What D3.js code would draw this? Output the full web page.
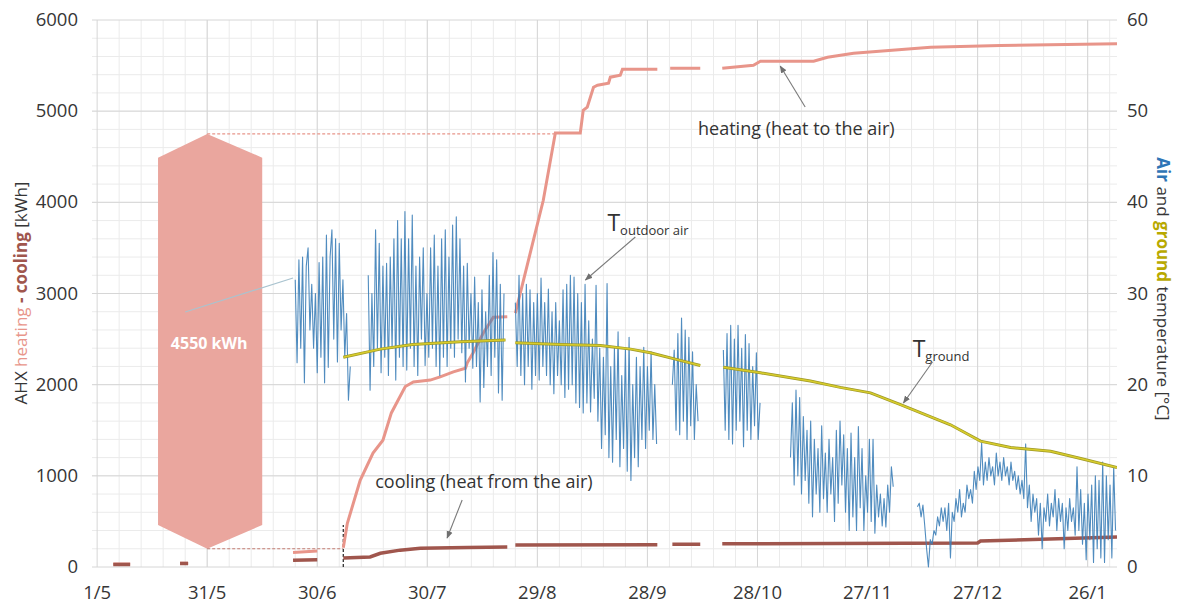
<!DOCTYPE html>
<html>
<head>
<meta charset="utf-8">
<script src="https://cdn.jsdelivr.net/npm/d3@7"></script>
<style>
  body { margin: 0; background: #fff; }
  svg { font-family: "Open Sans", sans-serif; }
</style>
</head>
<body>
<svg id="chart" width="1185" height="606"></svg>
<script>
// days counted from 1/5
var tickDays = [0, 30, 60, 90, 120, 150, 180, 210, 240, 270];
var tickLabels = ["1/5", "31/5", "30/6", "30/7", "29/8", "28/9", "28/10", "27/11", "27/12", "26/1"];
var kwhTicks = [0, 1000, 2000, 3000, 4000, 5000, 6000];
var tempTicks = [0, 10, 20, 30, 40, 50, 60];

// cumulative heating [day, kWh], null = gap
var heating = [
  [4.4, 32], [9, 32], null,
  [22.6, 42], [24.8, 42], null,
  [53.4, 160], [60.0, 175], null,
  [67.1, 210], [68.2, 480], [71.7, 950], [75.2, 1250], [77.9, 1390], [80.2, 1690], [84.0, 1980],
  [86.2, 2030], [90.8, 2050], [93.5, 2085], [97.1, 2140], [100.4, 2180], [100.9, 2240], [102.5, 2350],
  [105.3, 2570], [108.0, 2740], [111.8, 2745], null,
  [114.0, 2785], [121.6, 4020], [124.9, 4760], [131.7, 4760], [132.5, 5010], [133.6, 5044], [135.3, 5263],
  [136.4, 5285], [139.4, 5307], [139.9, 5373], [142.6, 5395], [143.2, 5460], [152.7, 5460], null,
  [156.2, 5470], [164.4, 5470], null,
  [170.4, 5470], [178.9, 5504], [180.8, 5548], [195.3, 5548], [199.1, 5592], [206.2, 5636],
  [227.2, 5702], [246.2, 5720], [278, 5740]
];

// cumulative cooling [day, kWh]
var cooling = [
  [4.4, 28], [9, 28], null,
  [22.6, 38], [24.8, 38], null,
  [53.4, 75], [60, 80], null,
  [67.1, 100], [74.4, 110], [77.2, 150], [82.6, 185], [88.1, 205], [100.9, 215], [111.8, 220], null,
  [114.0, 240], [152.7, 245], null,
  [156.8, 250], [164.4, 250], null,
  [170.4, 255], [240, 263], [240.8, 285], [278, 330]
];

// ground temperature [day, °C]
var ground = [
  [67.1, 23.0], [77.2, 23.9], [86, 24.4], [99.0, 24.7], [111.3, 24.9], null,
  [114.0, 24.6], [126.3, 24.4], [137.2, 24.3], [145.4, 23.9], [150.8, 23.5], [157.6, 22.8], [164.4, 22.1], null,
  [170.7, 21.9], [180.8, 21.3], [194.4, 20.4], [202.6, 19.7], [210.8, 19.1], [219.0, 17.8],
  [232.6, 15.6], [240.8, 13.8], [249.0, 13.1], [259.9, 12.7], [268.1, 11.9], [278, 10.9]
];

// outdoor air temperature, values every half day, segment start days
var airStarts = [54.0, 73.9, 114.0, 156.8, 170.7, 189.0, 223.6];
var air1 = [31.5, 22.4, 33.7, 24, 34, 20.2, 33, 35, 26, 31, 24, 30, 21.3, 33.4, 23, 34, 20.2, 36.4, 21.9, 34,
  37, 25, 36, 22.5, 35.5, 26, 31.5, 23, 27.8, 18.3, 22];
var air2 = [32, 19.4, 30, 22, 37, 24, 35.5, 21.3, 33, 23, 33.3, 21, 34, 24, 36, 20.5, 38, 23, 36, 22,
  39, 21.6, 36, 24, 38.6, 22, 33, 21, 34, 25, 35, 22.1, 30, 23, 35, 24, 36.4, 22, 33, 21,
  36, 23, 37, 22, 34, 24, 37.5, 23, 38.4, 25, 36, 23.5, 33, 20.3, 33.3, 24, 30, 21.8, 31.8, 22,
  29, 18.1, 30.4, 19.7, 28, 22, 32, 21, 34.5, 23, 33.7, 19.1, 31, 18.3, 30];
var air3 = [29, 22, 32, 21, 30, 20, 31, 22, 30.4, 19.5, 29, 21, 30, 20.5, 31.7, 22, 29, 21, 30.5, 20,
  28, 19, 29, 21, 27, 20, 30.4, 18.6, 31, 19.5, 32, 20, 31.8, 18, 30, 17.5, 29, 16.9, 31, 18,
  27, 17, 25, 18.5, 30.9, 16, 24, 13, 23, 14.5, 31.1, 12, 22, 11.5, 24, 14, 25.8, 11, 21, 13,
  24, 10.5, 25.2, 9.5, 20, 12, 23, 11, 22, 14, 24.1, 13, 22, 15, 23.6, 14, 20, 13.5];
var air4 = [20, 23.8, 15, 25.6, 14.5, 27.3, 16, 26, 14, 25.2, 15.5, 23.6, 14, 20, 16];
var air5 = [23.8, 15, 25.6, 14, 26.5, 13.5, 25, 15, 26.5, 16, 24, 13.2, 25.5, 15, 24.5, 14, 22, 15.5, 23.5, 14, 18];
var air6 = [12, 18, 9, 19.4, 10, 18.6, 8, 16.5, 9.5, 15, 7, 16, 5.5, 14, 8, 13, 6, 15.5, 7.5, 12.5,
  6, 14, 8, 12, 5, 15, 7, 16, 9, 14.5, 6, 13, 4, 14.7, 5.5, 12, 4, 15.4, 6.5, 13,
  4, 10, 6, 14, 5, 14, 3.7, 9, 5.5, 8, 4.5, 7.5, 4.4, 9, 6, 11, 8.8];
var air7 = [6.6, 7, 5.5, 6.8, 4.5, 2, 0, 3, 2.5, 4, 3.5, 5.5, 4.5, 6.5, 5, 6.5, 4, 7, 1, 6,
  5, 7.5, 6, 8.5, 5.5, 7, 6, 9, 7.5, 8.5, 7, 10.5, 8.5, 11, 9.5, 13.6, 9, 11.5, 9.5, 12,
  10, 11, 9, 12.5, 10, 11.5, 9.5, 12, 10, 11, 9, 11.5, 9.5, 10.5, 8.5, 10, 8, 9.5, 7.5, 13.5,
  6.5, 9, 5, 8, 6, 7.5, 3.5, 7, 2, 6.5, 5, 8, 4.5, 7, 5.5, 8.5, 4, 7.5, 5, 7,
  2, 6.5, 4, 7.5, 5, 6.5, 3.5, 11, 4, 8.5, 2.5, 7, 0.8, 8, 3, 9, 0.5, 10, 2, 9.5,
  1, 11.5, 0.5, 10, 3, 9, 1, 11, 4];
var airSeries = [air1, air2, air3, air4, air5, air6, air7];

// annotation arrow: values in kWh
var arrowTop = 4750, arrowBottom = 200;
var arrowShoulders = [4490, 460];
var arrowDays = [16.6, 30, 45];
var startDay = 67.1;
var plateauDay = 124.9;

var colHeat = "#e8958a",
    colCool = "#a0564d",
    colAir = "#3d7fb8",
    colGround = "#d8cd2c",
    colText = "#363636";

var svg = d3.select("#chart");

var x = d3.scaleLinear().domain([-1.4, 278]).range([92, 1117]);
var y = d3.scaleLinear().domain([0, 6000]).range([567, 20]);
var yT = d3.scaleLinear().domain([0, 60]).range([567, 20]);

svg.append("defs").append("clipPath").attr("id", "plot")
  .append("rect").attr("x", 92).attr("y", 18).attr("width", 1025).attr("height", 552);

svg.append("defs").append("marker")
  .attr("id", "head")
  .attr("viewBox", "0 0 10 10")
  .attr("refX", 9).attr("refY", 5)
  .attr("markerWidth", 7).attr("markerHeight", 7)
  .attr("orient", "auto")
  .append("path").attr("d", "M0,1 L10,5 L0,9 z").attr("fill", "#6f6f6f");

// grid
var grid = svg.append("g");
grid.selectAll(".vmin")
  .data(d3.range(6, 278, 6))
  .enter().append("line")
  .attr("x1", function(d) { return x(d); }).attr("x2", function(d) { return x(d); })
  .attr("y1", y(6000)).attr("y2", y(0))
  .attr("stroke", "#ebebeb").attr("stroke-width", 1);
grid.selectAll(".hmin")
  .data(d3.range(200, 6000, 200))
  .enter().append("line")
  .attr("x1", x(-1.4)).attr("x2", x(278))
  .attr("y1", function(d) { return y(d); }).attr("y2", function(d) { return y(d); })
  .attr("stroke", "#ebebeb").attr("stroke-width", 1);
grid.selectAll(".vmaj")
  .data(tickDays)
  .enter().append("line")
  .attr("x1", function(d) { return x(d); }).attr("x2", function(d) { return x(d); })
  .attr("y1", y(6000)).attr("y2", y(0))
  .attr("stroke", "#d6d6d6").attr("stroke-width", 1);
grid.selectAll(".hmaj")
  .data(kwhTicks)
  .enter().append("line")
  .attr("x1", x(-1.4)).attr("x2", x(278))
  .attr("y1", function(d) { return y(d); }).attr("y2", function(d) { return y(d); })
  .attr("stroke", "#d6d6d6").attr("stroke-width", 1);

// big 4550 kWh arrow
var poly = [
  [arrowDays[1], arrowTop], [arrowDays[2], arrowShoulders[0]], [arrowDays[2], arrowShoulders[1]],
  [arrowDays[1], arrowBottom], [arrowDays[0], arrowShoulders[1]], [arrowDays[0], arrowShoulders[0]]
];
svg.append("path")
  .attr("d", "M" + poly.map(function(p) { return x(p[0]) + "," + y(p[1]); }).join("L") + "Z")
  .attr("fill", "#eaa69e");

svg.append("text")
  .attr("x", x(arrowDays[1]) + 2).attr("y", y(2391))
  .attr("text-anchor", "middle")
  .attr("fill", "#fff").attr("font-weight", "bold").attr("font-size", 16)
  .text((arrowTop - arrowBottom) + " kWh");

svg.append("line")
  .attr("x1", x(arrowDays[1])).attr("x2", x(plateauDay))
  .attr("y1", y(arrowTop)).attr("y2", y(arrowTop))
  .attr("stroke", colHeat).attr("stroke-width", 1.2).attr("stroke-dasharray", "3,2");
svg.append("line")
  .attr("x1", x(arrowDays[1])).attr("x2", x(startDay))
  .attr("y1", y(arrowBottom)).attr("y2", y(arrowBottom))
  .attr("stroke", "#c47c72").attr("stroke-width", 1.2).attr("stroke-dasharray", "3,2");
svg.append("line")
  .attr("x1", x(startDay)).attr("x2", x(startDay))
  .attr("y1", y(0)).attr("y2", y(460))
  .attr("stroke", "#333").attr("stroke-width", 1.3).attr("stroke-dasharray", "3,2");

// leader line from the arrow label
svg.append("line")
  .attr("x1", x(24.0)).attr("y1", y(2797))
  .attr("x2", x(53.4)).attr("y2", y(3170))
  .attr("stroke", "#a9c3cf").attr("stroke-width", 1.2);

var plot = svg.append("g").attr("clip-path", "url(#plot)");

var kLine = d3.line()
  .defined(function(d) { return d !== null; })
  .x(function(d) { return x(d[0]); })
  .y(function(d) { return y(d[1]); });
var tLine = d3.line()
  .defined(function(d) { return d !== null; })
  .x(function(d) { return x(d[0]); })
  .y(function(d) { return yT(d[1]); });

plot.append("path").attr("d", kLine(heating))
  .attr("fill", "none").attr("stroke", colHeat).attr("stroke-width", 3);
plot.append("path").attr("d", kLine(cooling))
  .attr("fill", "none").attr("stroke", colCool).attr("stroke-width", 3.5);

airSeries.forEach(function(vals, k) {
  var pts = vals.map(function(v, i) { return [airStarts[k] + i * 0.5, v]; });
  plot.append("path").attr("d", tLine(pts))
    .attr("fill", "none").attr("stroke", colAir).attr("stroke-width", 1.1)
    .attr("stroke-linejoin", "round").attr("opacity", 0.9);
});

plot.append("path").attr("d", tLine(ground))
  .attr("fill", "none").attr("stroke", "#9e9828").attr("stroke-width", 3);
plot.append("path").attr("d", tLine(ground))
  .attr("fill", "none").attr("stroke", colGround).attr("stroke-width", 1.5);

// tick labels
svg.selectAll(".ly")
  .data(kwhTicks).enter().append("text")
  .attr("x", 78).attr("y", function(d) { return y(d) + 6; })
  .attr("text-anchor", "end").attr("font-size", 18.5).attr("fill", colText)
  .text(function(d) { return d; });
svg.selectAll(".ry")
  .data(tempTicks).enter().append("text")
  .attr("x", 1127).attr("y", function(d) { return yT(d) + 6; })
  .attr("font-size", 18.5).attr("fill", colText)
  .text(function(d) { return d; });
svg.selectAll(".bx")
  .data(tickDays).enter().append("text")
  .attr("x", function(d) { return x(d); }).attr("y", 599)
  .attr("text-anchor", "middle").attr("font-size", 18.5).attr("fill", colText)
  .text(function(d, i) { return tickLabels[i]; });

// axis titles
var lt = svg.append("text")
  .attr("transform", "translate(27,293) rotate(-90)")
  .attr("text-anchor", "middle").attr("font-size", 17).attr("fill", colText);
lt.append("tspan").text("AHX ");
lt.append("tspan").attr("fill", colHeat).text("heating");
lt.append("tspan").attr("font-weight", "bold").attr("fill", colCool).text(" - cooling");
lt.append("tspan").text(" [kWh]");

var rt = svg.append("text")
  .attr("transform", "translate(1157,289) rotate(90)")
  .attr("text-anchor", "middle").attr("font-size", 17).attr("fill", colText);
rt.append("tspan").attr("font-weight", "bold").attr("fill", "#2e75b6").text("Air");
rt.append("tspan").text(" and ");
rt.append("tspan").attr("font-weight", "bold").attr("fill", "#b8a900").text("ground");
rt.append("tspan").text(" temperature [°C]");

// annotations
function arrow(a, b) {
  svg.append("line")
    .attr("x1", x(a[0])).attr("y1", y(a[1]))
    .attr("x2", x(b[0])).attr("y2", y(b[1]))
    .attr("stroke", "#7a7a7a").attr("stroke-width", 1.1)
    .attr("marker-end", "url(#head)");
}

svg.append("text").attr("x", x(163.8)).attr("y", y(4739))
  .attr("font-size", 18).attr("fill", "#333").text("heating (heat to the air)");
arrow([193.0, 5046], [186.2, 5495]);

svg.append("text").attr("x", x(75.8)).attr("y", y(867))
  .attr("font-size", 18).attr("fill", "#333").text("cooling (heat from the air)");
arrow([99.5, 735], [95.4, 318]);

var to = svg.append("text").attr("x", x(139.1)).attr("y", y(3686)).attr("fill", "#333");
to.append("tspan").attr("font-size", 23).text("T");
to.append("tspan").attr("font-size", 13).attr("dy", 4).text("outdoor air");
arrow([146.7, 3620], [133.1, 3148]);

var tg = svg.append("text").attr("x", x(222.3)).attr("y", y(2303)).attr("fill", "#333");
tg.append("tspan").attr("font-size", 23).text("T");
tg.append("tspan").attr("font-size", 13).attr("dy", 4).text("ground");
arrow([227.7, 2249], [219.8, 1799]);
</script>
</body>
</html>
